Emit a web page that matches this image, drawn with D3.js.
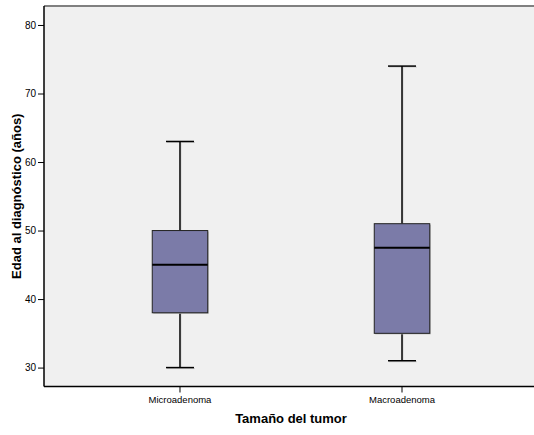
<!DOCTYPE html>
<html><head><meta charset="utf-8">
<script src="https://cdn.jsdelivr.net/npm/d3@7"></script>
<style>body{margin:0;background:#fff;} svg{display:block;font-family:Arial,"Liberation Sans",sans-serif;}</style>
</head><body>
<svg id="c" width="534" height="435"></svg>
<script>
const categories = ["Microadenoma", "Macroadenoma"];
const whiskerLow = [30, 31];
const q1 = [38, 35];
const median = [45, 47.5];
const q3 = [50, 51];
const whiskerHigh = [63, 74];
const yTicks = [30, 40, 50, 60, 70, 80];
const yLabel = "Edad al diagnóstico (años)";
const xLabel = "Tamaño del tumor";

const svg = d3.select("#c");
const L = 44, T = 6, R = 538, B = 386.5;
const y = d3.scaleLinear().domain([27.24, 82.77]).range([B, T]);
const x = d3.scaleBand().domain(categories).range([L, R]).paddingOuter(0.1125).paddingInner(0);

svg.append("rect").attr("x", L).attr("y", T).attr("width", R - L).attr("height", B - T).attr("fill", "#f0f0f0");
svg.append("line").attr("x1", L).attr("x2", R).attr("y1", T).attr("y2", T).attr("stroke", "#808080").attr("stroke-width", 2);

const data = categories.map((c, i) => ({c, lo: whiskerLow[i], q1: q1[i], med: median[i], q3: q3[i], hi: whiskerHigh[i]}));
const boxW = 55.5, capW = 28;
const g = svg.append("g");
data.forEach(d => {
  const cx = x(d.c) + x.bandwidth() / 2;
  // whisker shadows
  g.append("line").attr("x1", cx + 1).attr("x2", cx + 1).attr("y1", y(d.hi)).attr("y2", y(d.lo)).attr("stroke", "#cfcfcf").attr("stroke-width", 1);
  g.append("line").attr("x1", cx - capW / 2 + 1).attr("x2", cx + capW / 2 + 1).attr("y1", y(d.hi) + 1).attr("y2", y(d.hi) + 1).attr("stroke", "#cfcfcf").attr("stroke-width", 1);
  g.append("line").attr("x1", cx - capW / 2 + 1).attr("x2", cx + capW / 2 + 1).attr("y1", y(d.lo) + 1).attr("y2", y(d.lo) + 1).attr("stroke", "#cfcfcf").attr("stroke-width", 1);
  // whiskers
  g.append("line").attr("x1", cx).attr("x2", cx).attr("y1", y(d.hi)).attr("y2", y(d.q3)).attr("stroke", "#000").attr("stroke-width", 1.5);
  g.append("line").attr("x1", cx).attr("x2", cx).attr("y1", y(d.q1)).attr("y2", y(d.lo)).attr("stroke", "#000").attr("stroke-width", 1.5);
  g.append("line").attr("x1", cx - capW / 2).attr("x2", cx + capW / 2).attr("y1", y(d.hi)).attr("y2", y(d.hi)).attr("stroke", "#000").attr("stroke-width", 1.5);
  g.append("line").attr("x1", cx - capW / 2).attr("x2", cx + capW / 2).attr("y1", y(d.lo)).attr("y2", y(d.lo)).attr("stroke", "#000").attr("stroke-width", 1.5);
  // box shadow
  g.append("rect").attr("x", cx - boxW / 2 + 1).attr("y", y(d.q3) + 1).attr("width", boxW).attr("height", y(d.q1) - y(d.q3)).attr("fill", "#b4b4b4");
  g.append("rect").attr("x", cx - boxW / 2).attr("y", y(d.q3)).attr("width", boxW).attr("height", y(d.q1) - y(d.q3)).attr("fill", "#7b7ba8").attr("stroke", "#222").attr("stroke-width", 1);
  g.append("line").attr("x1", cx - boxW / 2).attr("x2", cx + boxW / 2).attr("y1", y(d.med)).attr("y2", y(d.med)).attr("stroke", "#000").attr("stroke-width", 2);
});

const ya = svg.append("g").attr("transform", `translate(${L},0)`)
  .call(d3.axisLeft(y).tickValues(yTicks).tickSize(6).tickPadding(2).tickSizeOuter(0));
ya.select(".domain").attr("stroke", "#000").attr("stroke-width", 1.5).attr("d", `M0,${T}V${B}`);
ya.selectAll(".tick line").attr("stroke", "#000");
ya.selectAll(".tick text").attr("font-size", 10).attr("font-family", "Arial, 'Liberation Sans', sans-serif").attr("fill", "#000");

const xa = svg.append("g").attr("transform", `translate(0,${B})`)
  .call(d3.axisBottom(x).tickSize(6).tickPadding(4).tickSizeOuter(0));
xa.select(".domain").attr("stroke", "#000").attr("stroke-width", 1.5).attr("d", `M${L},0H${R}`);
xa.selectAll(".tick line").attr("stroke", "#000");
xa.selectAll(".tick text").attr("font-size", 9.5).attr("font-family", "Arial, 'Liberation Sans', sans-serif").attr("fill", "#000");

svg.append("text").attr("x", 291).attr("y", 423).attr("text-anchor", "middle")
  .attr("font-size", 13).attr("font-weight", "bold").text(xLabel);
svg.append("text").attr("transform", `translate(21,${(T + B) / 2}) rotate(-90)`).attr("text-anchor", "middle")
  .attr("font-size", 13).attr("font-weight", "bold").text(yLabel);
</script>
</body></html>
